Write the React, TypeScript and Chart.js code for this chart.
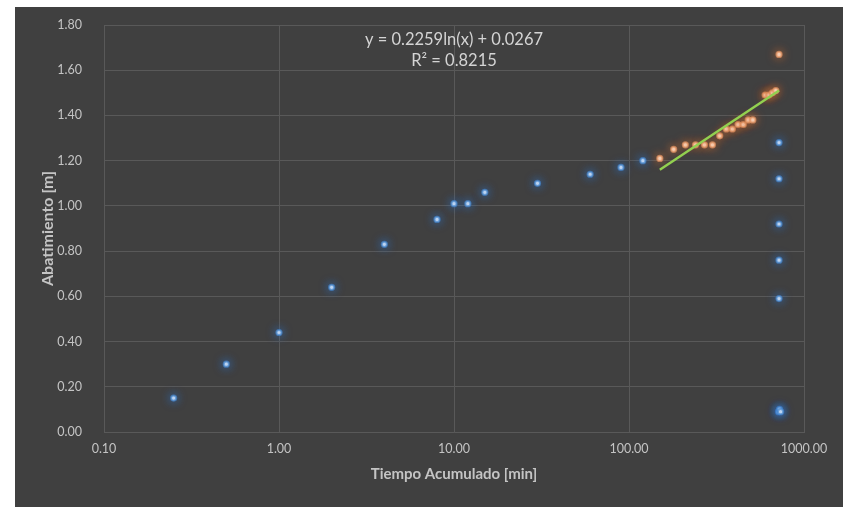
import React, { useEffect, useRef } from "react";
import { Chart, registerables } from "chart.js";

Chart.register(...registerables);

// ---- data ----
const blueX = [0.25, 0.5, 1, 2, 4, 8, 10, 12, 15, 30, 60, 90, 120, 720, 720, 720, 720, 720, 715, 725, 735];
const blueY = [0.15, 0.30, 0.44, 0.64, 0.83, 0.94, 1.01, 1.01, 1.06, 1.10, 1.14, 1.17, 1.20, 1.28, 1.12, 0.92, 0.76, 0.59, 0.09, 0.10, 0.09];

const orangeX = [150, 180, 210, 240, 270, 300, 330, 360, 390, 420, 450, 480, 510, 600, 630, 660, 690, 720];
const orangeY = [1.21, 1.25, 1.27, 1.27, 1.27, 1.27, 1.31, 1.34, 1.34, 1.36, 1.36, 1.38, 1.38, 1.49, 1.49, 1.50, 1.51, 1.67];

const trendX = [150, 720];
const trendY = [1.16, 1.51];

const xTickValues = [0.1, 1, 10, 100, 1000];
const yTickValues = [0, 0.2, 0.4, 0.6, 0.8, 1.0, 1.2, 1.4, 1.6, 1.8];

const equationText = "y = 0.2259ln(x) + 0.0267";
const r2Text = "R² = 0.8215";
const xTitle = "Tiempo Acumulado [min]";
const yTitle = "Abatimiento [m]";

const toPoints = (xs: number[], ys: number[]) => xs.map((x, i) => ({ x, y: ys[i] }));

const FONT = "Lato";
const TEXT = "#c4c4c4";
const GRID = "#595959";

const glowPlugin = {
  id: "glow",
  beforeDatasetDraw(chart: any, args: any) {
    const ds = chart.data.datasets[args.index] as any;
    if (ds.glowColor) {
      chart.ctx.save();
      chart.ctx.shadowColor = ds.glowColor;
      chart.ctx.shadowBlur = 10;
      chart.ctx.shadowOffsetX = 0;
      chart.ctx.shadowOffsetY = 0;
    }
  },
  afterDatasetDraw(chart: any, args: any) {
    const ds = chart.data.datasets[args.index] as any;
    if (ds.glowColor) chart.ctx.restore();
  },
};

const equationPlugin = {
  id: "equation",
  afterDraw(chart: any) {
    const { ctx, chartArea } = chart;
    const cx = (chartArea.left + chartArea.right) / 2;
    ctx.save();
    ctx.fillStyle = "#d4d4d4";
    ctx.font = `16.5px ${FONT}`;
    ctx.textAlign = "center";
    ctx.textBaseline = "middle";
    ctx.fillText(equationText, cx, chartArea.top + 14.5);
    ctx.fillText(r2Text, cx, chartArea.top + 35.5);
    ctx.restore();
  },
};

export default function App() {
  const ref = useRef<HTMLCanvasElement | null>(null);

  useEffect(() => {
    if (!ref.current) return;
    const chart = new Chart(ref.current, {
      type: "scatter",
      data: {
        datasets: [
          {
            type: "line",
            data: toPoints(trendX, trendY),
            borderColor: "#92d050",
            borderWidth: 2.5,
            pointRadius: 0,
            fill: false,
          } as any,
          {
            data: toPoints(orangeX, orangeY),
            backgroundColor: "#fbdcc6",
            borderColor: "rgba(230,150,100,0.7)",
            borderWidth: 2,
            pointRadius: 2.6,
            glowColor: "rgba(215,110,50,0.9)",
          } as any,
          {
            data: toPoints(blueX, blueY),
            backgroundColor: "#d6e6f7",
            borderColor: "rgba(68,134,205,0.7)",
            borderWidth: 2,
            pointRadius: 2.6,
            glowColor: "rgba(46,117,210,1)",
          } as any,
        ],
      },
      options: {
        responsive: false,
        animation: false,
        layout: { padding: { left: 17, right: 39, top: 18, bottom: 20 } },
        plugins: {
          legend: { display: false },
          tooltip: { enabled: false },
        },
        scales: {
          x: {
            type: "logarithmic",
            min: 0.1,
            max: 1000,
            afterBuildTicks: (scale: any) => {
              scale.ticks = xTickValues.map((v) => ({ value: v }));
            },
            afterFit: (scale: any) => {
              scale.height = 55;
            },
            ticks: {
              color: TEXT,
              font: { family: FONT, size: 12.5 },
              padding: 3,
              maxRotation: 0,
              autoSkip: false,
              callback: (v: any) => Number(v).toFixed(2),
            },
            grid: { color: GRID, drawTicks: true, tickLength: 6, tickColor: "rgba(0,0,0,0)", lineWidth: 1 },
            border: { color: GRID },
            title: {
              display: true,
              text: xTitle,
              color: TEXT,
              font: { family: FONT, size: 15, weight: "bold" },
              padding: { top: 0, bottom: 4 },
            },
          },
          y: {
            type: "linear",
            min: 0,
            max: 1.8,
            afterBuildTicks: (scale: any) => {
              scale.ticks = yTickValues.map((v) => ({ value: v }));
            },
            afterFit: (scale: any) => {
              scale.width = 72;
            },
            ticks: {
              color: TEXT,
              font: { family: FONT, size: 12.5 },
              padding: 3,
              callback: (v: any) => Number(v).toFixed(2),
            },
            grid: { color: GRID, drawTicks: true, tickLength: 19, tickColor: "rgba(0,0,0,0)", lineWidth: 1 },
            border: { color: GRID },
            title: {
              display: true,
              text: yTitle,
              color: TEXT,
              font: { family: FONT, size: 16, weight: "bold" },
              padding: { top: 6, bottom: 0 },
            },
          },
        },
      },
      plugins: [glowPlugin, equationPlugin],
    });
    return () => chart.destroy();
  }, []);

  return (
    <div
      style={{
        position: "absolute",
        left: 15,
        top: 7,
        width: 828,
        height: 500,
        background: "#404040",
      }}
    >
      <canvas ref={ref} width={828} height={500} style={{ display: "block" }} />
    </div>
  );
}
